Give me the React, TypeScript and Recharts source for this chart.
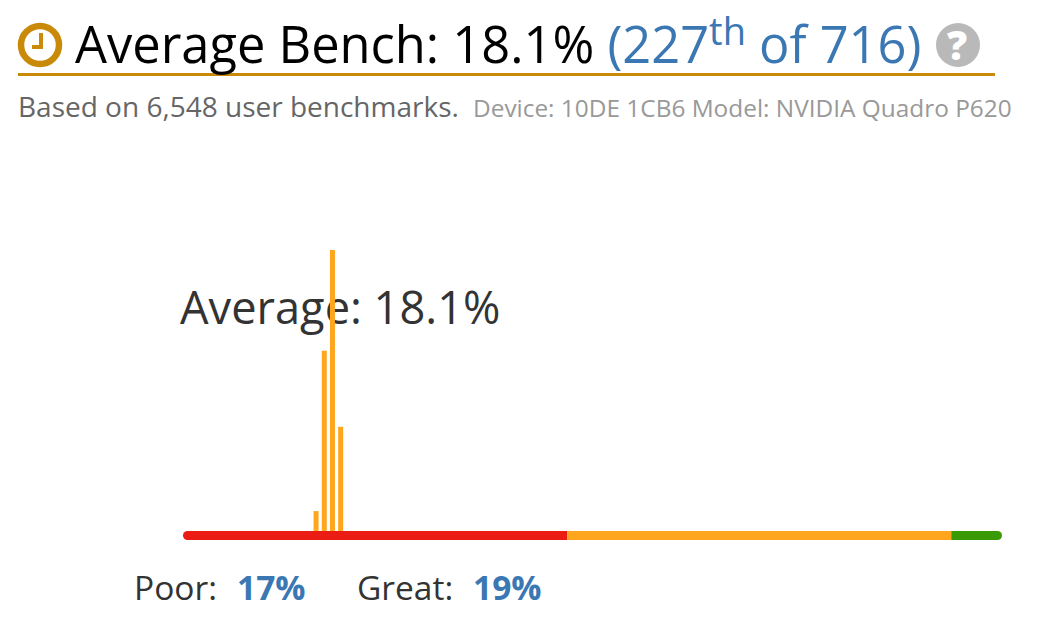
import React from 'react';
import { BarChart, Bar, XAxis, YAxis, ReferenceArea } from 'recharts';

// Histogram bins (score percent -> share of user benchmarks)
const binScores = [16.2, 17.2, 18.2, 19.2];
const binShares = [3.4, 30.8, 48, 17.8];

// Coloured scale under the bars
const bandEdges = [0, 46.9, 93.8, 100];
const bandColors = ['#eb1c14', '#ffa51e', '#3a9a06'];
const bandDepth = 1.54;

const data = binScores.map((score, i) => ({ score, share: binShares[i] }));

const FONT = '"Open Sans", sans-serif';
const BLUE = '#3a77b3';
const GOLD = '#c98a0a';

const line = (left: number, top: number, size: number, color: string): React.CSSProperties => ({
  position: 'absolute',
  left,
  top,
  fontSize: size,
  color,
  fontFamily: FONT,
  lineHeight: 1,
  whiteSpace: 'nowrap',
});

export default function App() {
  return (
    <div style={{ position: 'absolute', left: 0, top: 0, width: 1045, height: 640, background: '#fff', overflow: 'hidden' }}>
      {/* Header */}
      <svg width={1045} height={80} style={{ position: 'absolute', left: 0, top: 0 }}>
        <circle cx={40} cy={45} r={19} fill="none" stroke={GOLD} strokeWidth={6.5} />
        <path d="M41 33 V47 H32" fill="none" stroke={GOLD} strokeWidth={4} />
        <rect x={18} y={73} width={977} height={3} fill={GOLD} />
        <circle cx={958} cy={45} r={22} fill="#b9b9b9" />
      </svg>
      <div style={{ ...line(947, 25, 40, '#fff'), fontWeight: 800 }}>?</div>
      <div style={line(75, 19, 50.6, '#000')}>
        Average Bench: 18.1%{' '}
        <span style={{ color: BLUE }}>
          (227<sup style={{ fontSize: 38, lineHeight: 0 }}>th</sup> of 716)
        </span>
      </div>
      <div style={line(18, 92, 28, '#666')}>Based on 6,548 user benchmarks.</div>
      <div style={line(473, 96, 24.4, '#999')}>Device: 10DE 1CB6 Model: NVIDIA Quadro P620</div>

      {/* Sits behind the bars */}
      <div style={line(180, 284, 45.2, '#333')}>Average: 18.1%</div>

      <div style={{ position: 'absolute', left: 0, top: 240 }}>
        <BarChart
          width={1045}
          height={310}
          data={data}
          margin={{ top: 10, right: 43, bottom: 10, left: 183 }}
        >
          <XAxis dataKey="score" type="number" domain={[0, 100]} hide />
          <YAxis type="number" domain={[-bandDepth, 48]} hide />
          {bandColors.map((color, i) => (
            <ReferenceArea
              key={color}
              x1={bandEdges[i]}
              x2={bandEdges[i + 1]}
              y1={-bandDepth}
              y2={0}
              fill={color}
              fillOpacity={1}
              stroke="none"
              ifOverflow="visible"
              radius={i === 0 ? [4.5, 0, 0, 4.5] : i === bandColors.length - 1 ? [0, 4.5, 4.5, 0] : 0}
            />
          ))}
          <Bar dataKey="share" fill="#ffa51e" barSize={5} isAnimationActive={false} />
        </BarChart>
      </div>

      {/* Footer */}
      <div style={line(134, 571, 33.5, '#333')}>Poor:</div>
      <div style={{ ...line(237, 571, 33.5, BLUE), fontWeight: 700 }}>17%</div>
      <div style={line(357, 571, 33.5, '#333')}>Great:</div>
      <div style={{ ...line(473, 571, 33.5, BLUE), fontWeight: 700 }}>19%</div>
    </div>
  );
}
